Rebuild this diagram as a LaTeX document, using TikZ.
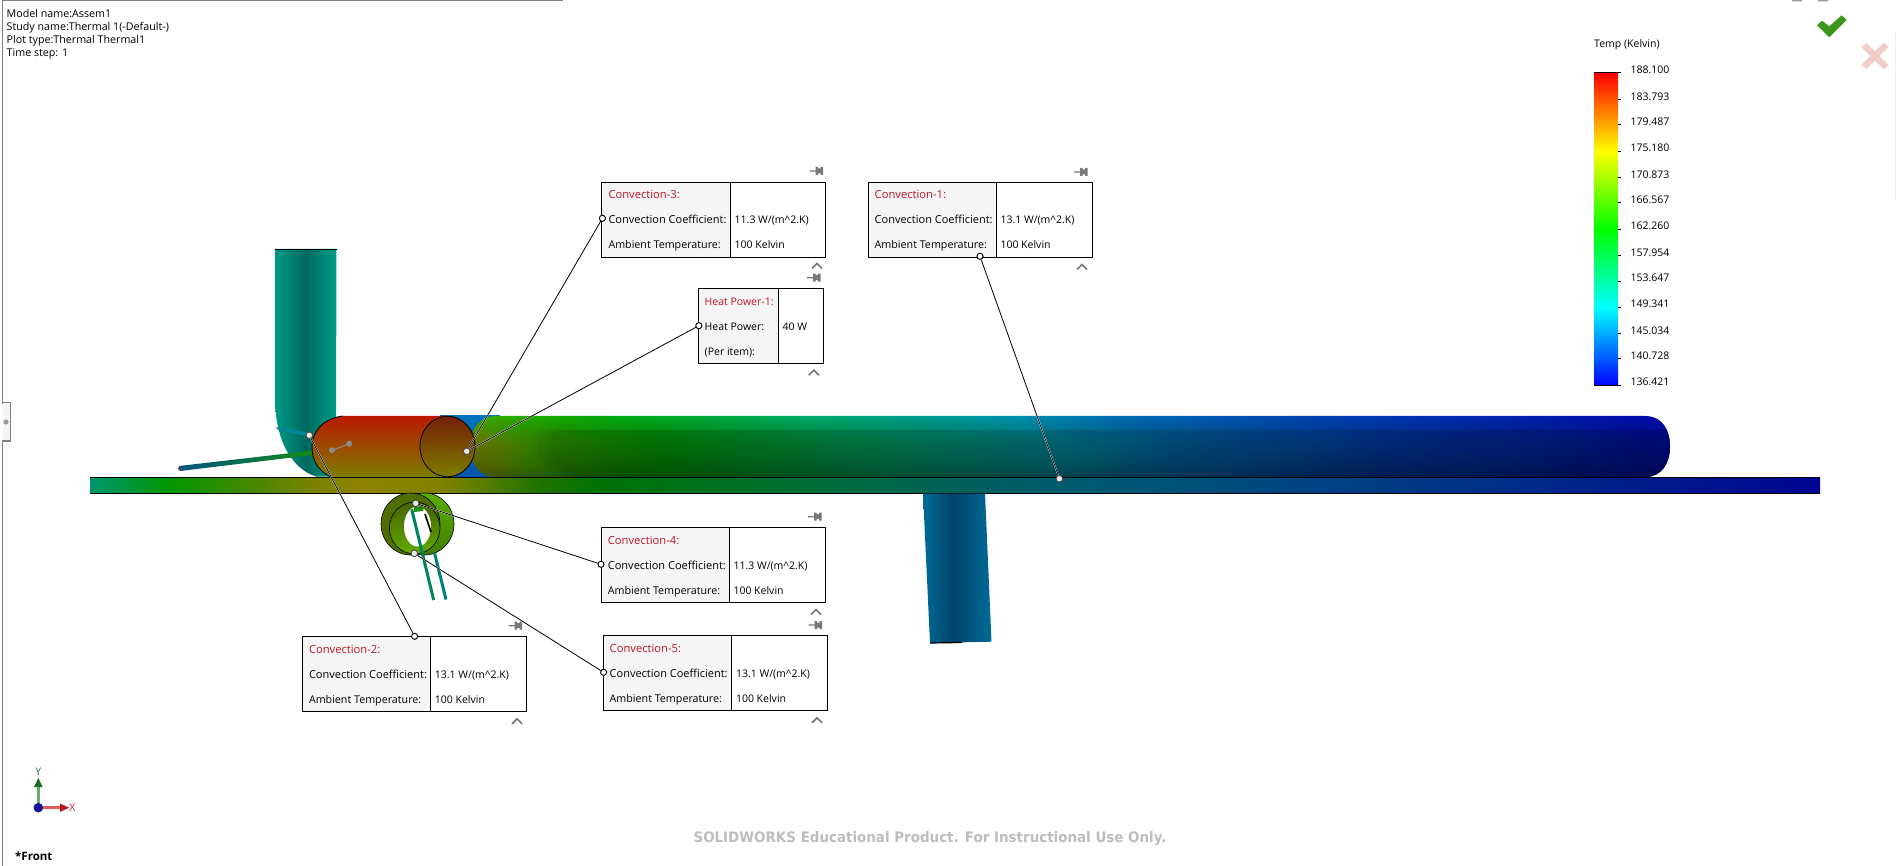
\documentclass[tikz,border=0pt]{standalone}
\usepackage{fontspec}
\setmainfont{Open Sans}
\newfontfamily\wmfont{DejaVu Sans}[FakeStretch=0.93]
\pgfdeclarehorizontalshading{tempX}{100bp}{
 rgb(0bp)=(.75,.08,0); rgb(25bp)=(.75,.08,0); rgb(30.88bp)=(.55,.6,0); rgb(32.06bp)=(.4,.65,0);
 rgb(32.65bp)=(.28,.67,0); rgb(35bp)=(.1,.67,0); rgb(37.35bp)=(0,.67,.08); rgb(42.65bp)=(0,.67,.4);
 rgb(48.53bp)=(0,.58,.67); rgb(51.47bp)=(0,.44,.7); rgb(57.35bp)=(0,.27,.7); rgb(63.24bp)=(0,.14,.68);
 rgb(68bp)=(0,.03,.68); rgb(100bp)=(0,0,.68)}
% plate: x = 90..1820 maps to 25..75
\pgfdeclarehorizontalshading{plateX}{100bp}{
 rgb(0bp)=(0,.59,.43); rgb(25bp)=(0,.59,.43); rgb(25.9bp)=(0,.59,.27); rgb(27.3bp)=(0,.59,0);
 rgb(29.6bp)=(.27,.53,0); rgb(31.6bp)=(.49,.51,0); rgb(32.8bp)=(.55,.51,0); rgb(35.1bp)=(.51,.51,0);
 rgb(36.3bp)=(.35,.49,0); rgb(38bp)=(.12,.45,0); rgb(39.7bp)=(0,.45,.02); rgb(45.5bp)=(0,.43,.2);
 rgb(51.3bp)=(0,.37,.39); rgb(54.2bp)=(0,.35,.45); rgb(59.9bp)=(0,.27,.51); rgb(65.7bp)=(0,.18,.53);
 rgb(75bp)=(0,.02,.57); rgb(100bp)=(0,.02,.57)}
\pgfdeclarehorizontalshading{tealH}{100bp}{
 rgb(0bp)=(0,.6,.53); rgb(25bp)=(0,.6,.53); rgb(50bp)=(0,.41,.37); rgb(75bp)=(0,.62,.54); rgb(100bp)=(0,.62,.54)}
\pgfdeclarehorizontalshading{blueH}{100bp}{
 rgb(0bp)=(0,.42,.6); rgb(25bp)=(0,.42,.6); rgb(47bp)=(0,.26,.41); rgb(75bp)=(0,.42,.6); rgb(100bp)=(0,.42,.6)}
\pgfdeclareverticalshading{legendbar}{100bp}{
 rgb(0bp)=(0,0,1); rgb(25bp)=(0,0,1); rgb(37.5bp)=(0,1,1); rgb(50bp)=(0,1,0); rgb(62.5bp)=(1,1,0); rgb(75bp)=(1,0,0); rgb(100bp)=(1,0,0)}
\definecolor{redtop}{RGB}{185,25,0}
\definecolor{redmid}{RGB}{150,85,0}
\definecolor{olive}{RGB}{125,125,0}
\definecolor{captop}{RGB}{115,30,5}
\definecolor{capmid}{RGB}{130,85,0}
\definecolor{titlered}{RGB}{190,20,40}
\definecolor{celbg}{gray}{0.96}
\definecolor{iconc}{gray}{0.47}
\tikzset{
 x=1pt,y=-1pt,
 txt/.style={inner sep=0pt,anchor=base west,font=\fontsize{10.5}{12}\selectfont},
 headtxt/.style={txt,font=\fontsize{10.7}{12}\selectfont},
 cotxt/.style={txt,font=\fontsize{11}{12}\selectfont},
 ambtxt/.style={txt,font=\fontsize{10.7}{12}\selectfont},
 cotitle/.style={txt,font=\fontsize{11.2}{12}\selectfont,text=titlered},
 cellframe/.style={draw=black,line width=1pt},
 lead/.style={draw=black,line width=.8pt},
 leadhalo/.style={draw=white,line width=1.4pt},
 boxdot/.style={circle,draw=black,fill=white,line width=.8pt,inner sep=0pt,minimum size=6pt},
 enddot/.style={circle,draw=black!75,fill=black!8,line width=.7pt,inner sep=0pt,minimum size=6.5pt},
 chev/.style={draw=iconc,line width=1.7pt},
}
\newcommand{\pinicon}[2]{%
 \fill[iconc] (#1-7,#2-.6) rectangle (#1,#2+.6)
  (#1-1,#2-4) rectangle (#1+1.5,#2+4) (#1+1,#2-2.5) rectangle (#1+5,#2+2.5) (#1+4,#2-4) rectangle (#1+6.5,#2+4);}
\newcommand{\chevicon}[2]{\draw[chev] (#1-5,#2+2.5) -- (#1,#2-2.5) -- (#1+5,#2+2.5);}
\newcommand{\convbox}[6]{% name,x,y,div,title,coef
 \fill[celbg] (#2,#3) rectangle (#2+#4,#3+75);
 \node[cellframe,rectangle,anchor=north west,minimum width=224pt,minimum height=75pt,inner sep=0pt] (#1) at (#2,#3) {};
 \draw[cellframe] (#2+#4,#3) -- (#2+#4,#3+75);
 \node[cotitle] (#1a) at (#2+7,#3+17) {#5};
 \node[cotxt] (#1b) at (#2+7,#3+42) {Convection Coefficient:};
 \node[ambtxt] (#1c) at (#2+7,#3+67) {Ambient Temperature:};
 \node[txt] (#1d) at (#2+#4+4,#3+42) {#6 W/(m\^{}2.K)};
 \node[txt] (#1e) at (#2+#4+4,#3+67) {100 Kelvin};
}
\begin{document}
\begin{tikzpicture}
\useasboundingbox (0,0) rectangle (1896,866);
\fill[white] (0,0) rectangle (1896,866);
% window frame
\draw[black!50,line width=1.2pt] (563,.5) -- (2.5,.5) -- (2.5,403) -- (10.5,403) -- (10.5,441) -- (2.5,441) -- (2.5,866);
\fill[celbg] (3,403.5) rectangle (10,440.5);
\fill[black!40] (6,422) circle (2.6);
\draw[black!6,line width=1pt] (1895,33) -- (1895,200);
\fill[black!40] (1792,0) rectangle (1802,1.5) (1818,0) rectangle (1828,1.5);
% header text
\node[headtxt] (hdA) at (6.5,17.8) {Model name:Assem1};
\node[headtxt] (hdB) at (6.5,30.8) {Study name:Thermal 1(-Default-)};
\node[headtxt] (hdC) at (6.5,43.8) {Plot type:Thermal Thermal1};
\node[headtxt] (hdD) at (6.5,56.8) {Time step: 1};
% elbow
\shade[shading=tealH] (275,249) -- (336.5,249) -- (336,420) -- (336,476.5) -- (316,476.5) .. controls (295,470) and (275,445) .. (275,397) -- cycle;
\draw[black,line width=1.2pt] (275,249.2) -- (336.5,249.2);
% thin rods at elbow
\fill[black!60] (277,428) circle (1);
\draw[line width=3.5pt,color={rgb,255:red,0;green,135;blue,150}] (278,428.5) -- (310,435);
\shade[left color={rgb,255:red,0;green,85;blue,130},right color={rgb,255:red,20;green,140;blue,20}] (179,466) -- (313,450.5) -- (313,455) -- (180,471) -- cycle;
\fill[black!70] (180,468.5) circle (2);
% blue band behind
\shade[top color={rgb,255:red,0;green,115;blue,190},bottom color={rgb,255:red,0;green,85;blue,170}] (440,416) rectangle (500,476.7);
% long pipe
\begin{scope}
\clip (495,416) -- (1645,416) .. controls (1662,416) and (1670,430) .. (1670,446.5) .. controls (1670,463) and (1662,477) .. (1645,477) -- (495,477) .. controls (480,477) and (470,463) .. (470,446.5) .. controls (470,430) and (480,416) .. (495,416) -- cycle;
\foreach \i in {0,...,30}{
 \pgfmathsetmacro{\yy}{416+2*\i}
 \pgfmathsetmacro{\tt}{\i/30}
 \pgfmathsetmacro{\sh}{70*min(1,\tt*2.2)}
 \shade[shading=tempX] (200+\sh,\yy) rectangle (1900+\sh,\yy+2.6);
}
\foreach \i in {0,...,30}{
 \pgfmathsetmacro{\yy}{416+2*\i}
 \pgfmathsetmacro{\tt}{\i/30}
 \pgfmathsetmacro{\op}{.3*(1-(1-\tt)^3)+.18*(\tt)^4}
 \fill[black,opacity=\op] (200,\yy) rectangle (1900,\yy+2);
}
\foreach \k in {0,...,3}{
 \fill[black,opacity=.03] (535+6*\k,430) -- (1700,430) -- (1700,477) -- (560+6*\k,477) .. controls (545+6*\k,470) and (532+6*\k,460) .. (532+6*\k,450) .. controls (532+6*\k,440) and (535+6*\k,434) .. (540+6*\k,430) -- cycle;
}
\end{scope}
% hot section
\shade[top color=redtop,middle color=redmid,bottom color=olive] (343,416) .. controls (325,418) and (312,430) .. (312,447) .. controls (312,462) and (320,472) .. (331,477) -- (450,477) -- (450,416) -- cycle;
\draw[black,line width=.8pt] (343,416) .. controls (325,418) and (312,430) .. (312,447) .. controls (312,462) and (320,472) .. (331,477);
\shade[top color=captop,middle color=capmid,bottom color=olive] (447.5,446.5) ellipse (27.5 and 30.3);
\draw[black,line width=.8pt] (447.5,446.5) ellipse (27.5 and 30.3);
% grey marker
\draw[black!45,line width=1pt] (332,450.3) -- (349.3,443.7);
\fill[black!45] (332,450.3) circle (3) (349.3,443.7) circle (3);
% plate
\shade[shading=plateX] (90,477) rectangle (1820,493);
\draw[black,line width=1pt] (90,477) -- (1820,477) (90,493) -- (1820,493);
% lower tube
\shade[shading=blueH] (923,493.5) -- (985,493.5) -- (991.5,641.7) -- (930,643) -- cycle;
\draw[black,line width=1.2pt] (930,643) -- (962,642.5);
% ring
\shade[top color={rgb,255:red,90;green,175;blue,0},bottom color={rgb,255:red,65;green,125;blue,0}] (424.5,524) ellipse (29.5 and 31);
\draw[black,line width=.6pt] (424.5,524) ellipse (29.5 and 31);
\draw[line width=3pt,color={rgb,255:red,0;green,125;blue,125}] (434.5,553) -- (446,599.5);
\fill[color={rgb,255:red,80;green,110;blue,0}] (410.5,524) ellipse (29.5 and 31);
\draw[black,line width=.6pt] (410.5,524) ellipse (29.5 and 31);
\shade[top color={rgb,255:red,65;green,100;blue,0},bottom color={rgb,255:red,100;green,170;blue,0}] (414.7,528) ellipse (25.3 and 26);
\draw[black,line width=.6pt] (414.7,528) ellipse (25.3 and 26);
\fill[white] (417.5,526.5) ellipse (13.5 and 20);
\fill[color={rgb,255:red,30;green,140;blue,20}] (414,507) -- (424,507) -- (423,511) -- (414,512) -- cycle;
\draw[line width=1.6pt,black] (425,514) -- (431,532);
\draw[line width=3pt,color={rgb,255:red,0;green,130;blue,95}] (411.7,509.3) -- (433.7,600);
% anchors of the leaders
\node[enddot] (aHot) at (466.7,451.3) {};
\node[enddot] (aPlate) at (1059.4,478.7) {};
\node[enddot] (aElbow) at (309.3,435.3) {};
\node[enddot] (aRingT) at (415.7,503.3) {};
\node[enddot] (aRingB) at (414.3,553.3) {};
% boxes
\convbox{cthree}{601.3}{181.7}{129.2}{Convection-3:}{11.3}
\convbox{cone}{867.5}{181.7}{128.8}{Convection-1:}{13.1}
\convbox{cfour}{600.7}{527.3}{128.6}{Convection-4:}{11.3}
\convbox{cfive}{602.5}{635.3}{129.3}{Convection-5:}{13.1}
\convbox{ctwo}{301.8}{636}{128.9}{Convection-2:}{13.1}
\fill[celbg] (697.8,288.3) rectangle (778.8,363.3);
\node[cellframe,rectangle,anchor=north west,minimum width=125pt,minimum height=75pt,inner sep=0pt] (heat) at (697.8,288.3) {};
\draw[cellframe] (778.8,288.3) -- (778.8,363.3);
\node[txt,text=titlered] (heatA) at (704.5,305.3) {Heat Power-1:};
\node[txt] (heatB) at (704.5,330.3) {Heat Power:};
\node[txt] (heatC) at (704.5,355.3) {(Per item):};
\node[txt] (heatD) at (782.5,330.3) {40 W};
% leaders
\node[boxdot] (dThree) at (602.4,218.3) {};
\node[boxdot] (dHeat) at (698.8,325.7) {};
\node[boxdot] (dOne) at (980,256.3) {};
\node[boxdot] (dTwo) at (414.6,636.3) {};
\node[boxdot] (dFour) at (601,564.3) {};
\node[boxdot] (dFive) at (603.6,672.3) {};
\begin{scope}[xshift=1pt]
\draw[leadhalo] (dThree) -- (aHot);
\draw[leadhalo] (dHeat) -- (aHot);
\draw[leadhalo] (dOne) -- (aPlate);
\draw[leadhalo] (dTwo) -- (aElbow);
\draw[leadhalo] (dFour) -- (aRingT);
\draw[leadhalo] (dFive) -- (aRingB);
\end{scope}
\draw[lead] (dThree) -- (aHot);
\draw[lead] (dHeat) -- (aHot);
\draw[lead] (dOne) -- (aPlate);
\draw[lead] (dTwo) -- (aElbow);
\draw[lead] (dFour) -- (aRingT);
\draw[lead] (dFive) -- (aRingB);
\foreach \n in {dThree,dHeat,dOne,dTwo,dFour,dFive}{\node[boxdot] at (\n) {};}
\foreach \n in {aHot,aPlate,aElbow,aRingT,aRingB}{\node[enddot] at (\n) {};}
% pins and chevrons
\pinicon{816.6}{171}\chevicon{817}{266}
\pinicon{1081}{172}\chevicon{1082}{267}
\pinicon{814}{277.7}\chevicon{813.8}{372.7}
\pinicon{815}{516.7}\chevicon{816}{612}
\pinicon{815.7}{625}\chevicon{817}{720.3}
\pinicon{515.7}{625.7}\chevicon{517}{721.3}
% legend
\node[txt] (lgT) at (1594,47.5) {Temp (Kelvin)};
\shade[shading=legendbar] (1594,73) rectangle (1618,385.7);
\draw[black,line width=1pt] (1594,73) -- (1621,73) (1594,385.7) -- (1621,385.7);
\foreach \t in {100,125,151.7,178,203,229.3,256,281.3,307.3,334,359}{\draw[black,line width=1pt] (1618,\t) -- (1621,\t);}
\foreach \nm/\t/\v in {a/69.3/188.100,b/96/183.793,c/121/179.487,d/147/175.180,e/174/170.873,f/199/166.567,g/225.3/162.260,h/252/157.954,i/277/153.647,j/303.3/149.341,k/330/145.034,l/355/140.728,m/381/136.421}{
 \node[txt] (lg\nm) at (1630.3,\t+4.5) {\v};}
% accept and cancel
\fill[color={rgb,255:red,60;green,150;blue,30}] (1817,25.3) -- (1822,20.7) -- (1829.3,26.3) -- (1841.7,15.3) -- (1846.7,20) -- (1829.3,37.3) -- cycle;
\draw[line width=6.5pt,color={rgb,255:red,240;green,205;blue,200}] (1864,45) -- (1886,67) (1886,45) -- (1864,67);
% triad
\draw[line width=3pt,color={rgb,255:red,110;green,170;blue,110}] (38.3,805) -- (38.3,786);
\fill[color={rgb,255:red,25;green,105;blue,35}] (34,787) -- (38.3,778) -- (42.6,787) -- cycle;
\draw[line width=3pt,color={rgb,255:red,230;green,90;blue,90}] (40,807.7) -- (61,807.7);
\fill[color={rgb,255:red,185;green,25;blue,30}] (60,803.5) -- (69,807.7) -- (60,812) -- cycle;
\fill[color={rgb,255:red,20;green,20;blue,150}] (38.3,807.7) circle (4.8);
\node[txt,anchor=center,text={rgb,255:red,40;green,110;blue,60}] (triY) at (38.3,771.7) {Y};
\node[txt,anchor=center,text={rgb,255:red,210;green,30;blue,60}] (triX) at (72.5,807.7) {X};
\node[txt,font=\fontsize{11.5}{13}\selectfont\bfseries] (view) at (15,860.5) {*Front};
\node[inner sep=0pt,anchor=center,text=black!26,font=\wmfont\fontsize{14.45}{16}\selectfont\bfseries] (wm) at (930,839) {SOLIDWORKS Educational Product. For Instructional Use Only.};
\end{tikzpicture}
\end{document}
